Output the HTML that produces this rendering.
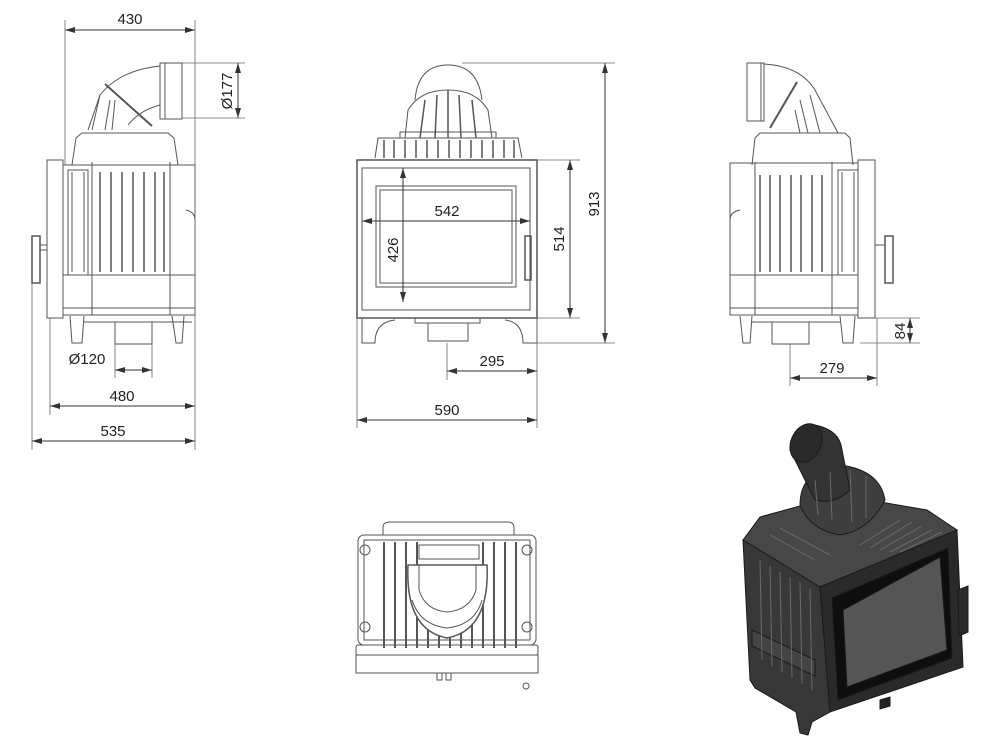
<!DOCTYPE html>
<html><head><meta charset="utf-8"><style>
html,body{margin:0;padding:0;background:#fff;}
svg{display:block}
text{font-family:"Liberation Sans",sans-serif;font-size:15px;fill:#222}
</style></head><body>
<svg width="1000" height="749" viewBox="0 0 1000 749" xmlns="http://www.w3.org/2000/svg">
<defs>
<marker id="a" markerWidth="10" markerHeight="6" refX="10" refY="3" orient="auto-start-reverse" markerUnits="userSpaceOnUse"><path d="M0,0 L10,3 L0,6z" fill="#333"/></marker>
</defs>
<g fill="none" stroke="#555" stroke-width="1">
<!-- ===== LEFT VIEW ===== -->
<rect x="160" y="63" width="22" height="56"/>
<line x1="165" y1="63" x2="165" y2="119"/>
<path d="M160 66 Q120 70 100 95 L92 130"/>
<path d="M160 105 Q140 110 128 125"/>
<line x1="105" y1="84" x2="152" y2="126" stroke-width="2"/>
<path d="M100 95 L88 130 M110 100 L105 130 M115 100 L112 130"/>
<path d="M72 165 L76 138 L82 133 L168 133 L174 138 L178 165"/>
<rect x="47" y="160" width="16" height="158"/>
<rect x="63" y="165" width="132" height="150"/>
<rect x="68" y="170" width="20" height="105"/>
<line x1="72" y1="172" x2="72" y2="272"/><line x1="84" y1="172" x2="84" y2="272"/>
<line x1="92" y1="162" x2="92" y2="315"/><line x1="170" y1="162" x2="170" y2="315"/>
<g stroke-width="1.5"><line x1="100" y1="172" x2="100" y2="272"/><line x1="111" y1="172" x2="111" y2="272"/><line x1="122" y1="172" x2="122" y2="272"/><line x1="133" y1="172" x2="133" y2="272"/><line x1="144" y1="172" x2="144" y2="272"/><line x1="155" y1="172" x2="155" y2="272"/><line x1="164" y1="172" x2="164" y2="272"/></g>
<line x1="63" y1="275" x2="195" y2="275"/>
<line x1="63" y1="308" x2="195" y2="308"/>
<path d="M186 210 Q195 212 195 220"/>
<rect x="32" y="236" width="8" height="47" stroke-width="1.5"/>
<line x1="40" y1="245" x2="47" y2="245"/><line x1="40" y1="250" x2="47" y2="250"/>
<path d="M70 316 L72 343 L82 343 L84 316 M172 316 L176 343 L182 343 L184 316"/>
<line x1="84" y1="322" x2="192" y2="322"/>
<rect x="115" y="322" width="37" height="22"/>
<!-- ===== FRONT VIEW ===== -->
<path d="M415 100 Q418 65 448 65 Q478 65 482 100"/>
<path d="M405 138 L408 110 Q420 90 448 90 Q476 90 488 110 L492 138"/>
<path d="M420 138 L425 100 M435 138 L437 95 M448 138 L448 90 M461 138 L459 95 M476 138 L472 100" stroke-width="1.5"/>
<rect x="400" y="132" width="96" height="6"/>
<path d="M375 158 L378 138 L518 138 L522 158"/>
<g stroke-width="1.5"><line x1="384" y1="140" x2="384" y2="158"/><line x1="394" y1="140" x2="394" y2="158"/><line x1="405" y1="140" x2="405" y2="158"/><line x1="416" y1="140" x2="416" y2="158"/><line x1="427" y1="140" x2="427" y2="158"/><line x1="438" y1="140" x2="438" y2="158"/><line x1="449" y1="140" x2="449" y2="158"/><line x1="460" y1="140" x2="460" y2="158"/><line x1="471" y1="140" x2="471" y2="158"/><line x1="482" y1="140" x2="482" y2="158"/><line x1="493" y1="140" x2="493" y2="158"/><line x1="504" y1="140" x2="504" y2="158"/><line x1="514" y1="140" x2="514" y2="158"/></g>
<rect x="357" y="160" width="180" height="158" stroke-width="1.5"/>
<rect x="362" y="168" width="168" height="142"/>
<rect x="376" y="186" width="140" height="101"/>
<rect x="380" y="190" width="132" height="93"/>
<rect x="525" y="236" width="6" height="44" stroke-width="1.5"/>
<path d="M362 318 L362 343 L375 343 Q375 322 395 320 M537 318 L537 343 L523 343 Q523 322 505 320"/>
<rect x="415" y="318" width="65" height="5"/>
<rect x="428" y="323" width="40" height="18"/>
<!-- ===== RIGHT VIEW ===== -->
<rect x="747" y="63" width="17" height="58"/>
<line x1="761" y1="63" x2="761" y2="121"/>
<path d="M764 64 Q800 66 815 90 L838 133"/>
<line x1="797" y1="82" x2="770" y2="128" stroke-width="2"/>
<path d="M810 95 L820 133 M800 100 L808 133 M795 110 L800 133"/>
<path d="M752 165 L755 138 L760 133 L845 133 L850 138 L853 165"/>
<rect x="730" y="163" width="128" height="152"/>
<rect x="858" y="160" width="17" height="158"/>
<rect x="838" y="170" width="20" height="105"/>
<line x1="842" y1="172" x2="842" y2="272"/><line x1="854" y1="172" x2="854" y2="272"/>
<line x1="755" y1="162" x2="755" y2="315"/><line x1="832" y1="162" x2="832" y2="315"/>
<g stroke-width="1.5"><line x1="760" y1="175" x2="760" y2="272"/><line x1="770" y1="175" x2="770" y2="272"/><line x1="780" y1="175" x2="780" y2="272"/><line x1="791" y1="175" x2="791" y2="272"/><line x1="801" y1="175" x2="801" y2="272"/><line x1="812" y1="175" x2="812" y2="272"/><line x1="822" y1="175" x2="822" y2="272"/></g>
<line x1="730" y1="275" x2="858" y2="275"/>
<line x1="730" y1="308" x2="858" y2="308"/>
<path d="M740 210 Q730 212 730 220"/>
<rect x="885" y="236" width="8" height="47" stroke-width="1.5"/>
<line x1="875" y1="245" x2="885" y2="245"/>
<path d="M740 316 L743 343 L750 343 L752 316 M840 316 L843 343 L853 343 L855 316"/>
<line x1="752" y1="322" x2="840" y2="322"/>
<rect x="772" y="322" width="37" height="22"/>
<!-- ===== BOTTOM VIEW ===== -->
<path d="M383 535 L383 527 Q383 522 390 522 L508 522 Q514 522 514 528 L514 535"/>
<rect x="358" y="535" width="178" height="110" rx="6"/>
<rect x="364" y="540" width="166" height="100"/>
<g stroke-width="2"><line x1="384" y1="542" x2="384" y2="648"/><line x1="395" y1="542" x2="395" y2="648"/><line x1="406" y1="542" x2="406" y2="648"/><line x1="417" y1="542" x2="417" y2="648"/><line x1="428" y1="600" x2="428" y2="648"/><line x1="439" y1="600" x2="439" y2="648"/><line x1="450" y1="600" x2="450" y2="648"/><line x1="461" y1="600" x2="461" y2="648"/><line x1="472" y1="600" x2="472" y2="648"/><line x1="483" y1="542" x2="483" y2="648"/><line x1="494" y1="542" x2="494" y2="648"/><line x1="505" y1="542" x2="505" y2="648"/><line x1="516" y1="542" x2="516" y2="648"/></g>
<rect x="419" y="545" width="60" height="14" fill="#fff"/>
<path d="M408 565 Q405 630 447 638 Q490 630 487 565 Z" fill="#fff" stroke-width="1.5"/>
<path d="M419 565 L419 590 Q425 610 447 612 Q470 610 476 590 L476 565 Z"/>
<path d="M412 600 Q420 625 447 628 Q475 625 482 600"/>
<circle cx="365" cy="550" r="5"/><circle cx="527" cy="550" r="5"/><circle cx="365" cy="627" r="5"/><circle cx="527" cy="627" r="5"/>
<rect x="356" y="645" width="182" height="10" rx="2"/>
<rect x="356" y="655" width="182" height="18"/>
<rect x="437" y="673" width="5" height="7"/><rect x="446" y="673" width="5" height="7"/>
<circle cx="526" cy="686" r="3"/>
</g>
<!-- ===== ISO VIEW ===== -->
<g stroke="#1a1a1a" stroke-width="1">
<path d="M743 540 L820 587 L830 712 L812 722 L808 735 L800 733 L796 712 L755 688 L750 680 Z" fill="#383838"/>
<path d="M743 540 L760 517 L840 495 L927 510 L957 530 L820 587 Z" fill="#474747"/>
<path d="M820 587 L957 530 L963 667 L830 712 Z" fill="#2a2a2a"/>
<path d="M832 598 L948 548 L952 658 L838 700 Z" fill="#0e0e0e"/>
<path d="M843 610 L940 557 L947 650 L847 687 Z" fill="#555"/>
<path d="M958 590 L968 586 L968 632 L959 636 Z" fill="#2a2a2a"/>
<path d="M880 700 L890 697 L890 706 L880 709 Z" fill="#222"/>
<path d="M752 630 L815 660 L815 676 L752 646 Z" fill="#444"/>
<path d="M800 505 Q800 470 840 465 Q880 470 885 500 Q870 530 840 535 Q810 530 800 505 Z" fill="#3e3e3e"/>
<path d="M790 450 Q792 428 815 425 Q840 430 842 450 L850 490 Q835 505 815 500 Z" fill="#333"/>
<ellipse cx="806" cy="443" rx="15" ry="20" transform="rotate(25 806 443)" fill="#2a2a2a"/>
</g>
<g stroke="#6a6a6a" stroke-width="1">
<line x1="760" y1="560" x2="762" y2="660"/><line x1="770" y1="566" x2="772" y2="666"/><line x1="780" y1="572" x2="782" y2="672"/><line x1="790" y1="577" x2="792" y2="678"/><line x1="800" y1="582" x2="802" y2="684"/><line x1="810" y1="588" x2="812" y2="690"/>
<line x1="770" y1="535" x2="815" y2="560"/><line x1="780" y1="528" x2="830" y2="555"/>
<line x1="860" y1="545" x2="900" y2="520"/><line x1="870" y1="548" x2="912" y2="522"/><line x1="880" y1="550" x2="922" y2="526"/><line x1="890" y1="552" x2="932" y2="530"/><line x1="900" y1="552" x2="942" y2="532"/>
<line x1="815" y1="480" x2="818" y2="515"/><line x1="830" y1="472" x2="832" y2="520"/><line x1="850" y1="470" x2="852" y2="522"/><line x1="866" y1="476" x2="866" y2="518"/>
</g>
<!-- ===== DIMENSIONS ===== -->
<g stroke="#666" stroke-width="0.8" fill="none">
<line x1="65" y1="20" x2="65" y2="165"/><line x1="195" y1="20" x2="195" y2="450"/>
<line x1="182" y1="63" x2="245" y2="63"/><line x1="182" y1="118" x2="245" y2="118"/>
<line x1="115" y1="344" x2="115" y2="378"/><line x1="152" y1="344" x2="152" y2="378"/>
<line x1="50" y1="318" x2="50" y2="415"/><line x1="32" y1="283" x2="32" y2="450"/>
<line x1="462" y1="63" x2="615" y2="63"/><line x1="537" y1="160" x2="580" y2="160"/><line x1="537" y1="318" x2="580" y2="318"/><line x1="537" y1="343" x2="615" y2="343"/>
<line x1="357" y1="318" x2="357" y2="428"/><line x1="537" y1="318" x2="537" y2="428"/>
<line x1="447" y1="343" x2="447" y2="380"/>
<line x1="875" y1="318" x2="920" y2="318"/><line x1="860" y1="343" x2="920" y2="343"/>
<line x1="790" y1="344" x2="790" y2="386"/><line x1="877" y1="318" x2="877" y2="386"/>
</g>
<g stroke="#333" stroke-width="1" fill="none" marker-start="url(#a)" marker-end="url(#a)">
<line x1="65" y1="30" x2="195" y2="30"/>
<line x1="238" y1="63" x2="238" y2="118"/>
<line x1="115" y1="370" x2="152" y2="370"/>
<line x1="50" y1="406" x2="195" y2="406"/>
<line x1="32" y1="441" x2="195" y2="441"/>
<line x1="605" y1="63" x2="605" y2="343"/>
<line x1="570" y1="160" x2="570" y2="318"/>
<line x1="403" y1="168" x2="403" y2="302"/>
<line x1="362" y1="221" x2="530" y2="221"/>
<line x1="447" y1="371" x2="537" y2="371"/>
<line x1="357" y1="420" x2="537" y2="420"/>
<line x1="910" y1="318" x2="910" y2="343"/>
<line x1="790" y1="378" x2="877" y2="378"/>
</g>
<g>
<text x="130" y="24" text-anchor="middle">430</text>
<text transform="translate(232 91) rotate(-90)" text-anchor="middle">Ø177</text>
<text x="87" y="364" text-anchor="middle">Ø120</text>
<text x="122" y="401" text-anchor="middle">480</text>
<text x="113" y="436" text-anchor="middle">535</text>
<text x="447" y="216" text-anchor="middle">542</text>
<text transform="translate(398 250) rotate(-90)" text-anchor="middle">426</text>
<text transform="translate(564 239) rotate(-90)" text-anchor="middle">514</text>
<text transform="translate(599 204) rotate(-90)" text-anchor="middle">913</text>
<text x="492" y="366" text-anchor="middle">295</text>
<text x="447" y="415" text-anchor="middle">590</text>
<text transform="translate(905 331) rotate(-90)" text-anchor="middle">84</text>
<text x="832" y="373" text-anchor="middle">279</text>
</g>
</svg>
</body></html>
